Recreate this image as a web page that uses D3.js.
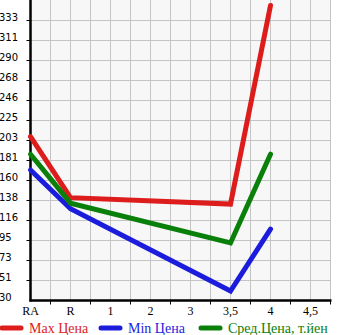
<!DOCTYPE html>
<html>
<head>
<meta charset="utf-8">
<script src="https://cdn.jsdelivr.net/npm/d3@7"></script>
<style>
  body { margin: 0; background: #fff; }
  svg { display: block; }
</style>
</head>
<body>
<div class="chart"></div>
<script>
// price chart, categories on x, three price series

var w = 345, h = 335;

var categories = ['RA', 'R', '1', '2', '3', '3,5', '4', '4,5'];
var maxPrice = [207, 141, null, null, null, 134, 349, null];
var minPrice = [171, 129, null, null, null, 40, 107, null];
var avgPrice = [188, 135, null, null, null, 92, 188, null];
var yTickLabels = [30, 51, 73, 95, 116, 138, 160, 181, 203, 225, 246, 268, 290, 311, 333];
var seriesNames = ['Max Цена', 'Min Цена', 'Сред.Цена, т.йен'];
var seriesColors = ['#dd1c1c', '#1c1cdd', '#0a800a'];

var left = 30.5, right = 330.5, top = 0.5, bottom = 300.5;

var x = d3.scalePoint()
	.domain(categories)
	.range([left, left + 40 * (categories.length - 1)]);

var y = d3.scaleLinear()
	.domain([29.7, 29.7 + 15 * (333 - 30) / 14])
	.range([bottom, bottom - 300]);

var svg = d3.select('.chart').append('svg')
	.attr('width', w)
	.attr('height', h);

// plot background
svg.append('rect')
	.attr('x', left).attr('y', 0)
	.attr('width', right - left).attr('height', bottom)
	.attr('fill', '#f7f7f7');

// grid, every 20px both ways
var gx = d3.range(left + 20, right + 1, 20);
svg.append('g').selectAll('line')
	.data(gx)
	.enter().append('line')
		.attr('x1', function(d) { return d; })
		.attr('x2', function(d) { return d; })
		.attr('y1', 0).attr('y2', bottom)
		.attr('stroke', '#c4c4c4').attr('stroke-width', 1);

svg.append('g').selectAll('line')
	.data(yTickLabels.slice(1))
	.enter().append('line')
		.attr('x1', left).attr('x2', right)
		.attr('y1', function(d, i) { return bottom - 20 * (i + 1); })
		.attr('y2', function(d, i) { return bottom - 20 * (i + 1); })
		.attr('stroke', '#c4c4c4').attr('stroke-width', 1);

// y axis
svg.append('g').selectAll('line')
	.data(yTickLabels.slice(1))
	.enter().append('line')
		.attr('x1', left - 4).attr('x2', left)
		.attr('y1', function(d, i) { return bottom - 20 * (i + 1); })
		.attr('y2', function(d, i) { return bottom - 20 * (i + 1); })
		.attr('stroke', '#000');

svg.append('g').selectAll('text')
	.data(yTickLabels)
	.enter().append('text')
		.attr('x', -1)
		.attr('y', function(d, i) { return bottom - 20 * i; })
		.attr('font-family', 'DejaVu Sans')
		.attr('font-size', '10px')
		.text(function(d) { return d; });

// x axis ticks between categories
svg.append('g').selectAll('line')
	.data(d3.range(left + 20, right + 1, 40))
	.enter().append('line')
		.attr('x1', function(d) { return d; })
		.attr('x2', function(d) { return d; })
		.attr('y1', bottom).attr('y2', bottom + 4)
		.attr('stroke', '#000');

svg.append('g').selectAll('text')
	.data(categories)
	.enter().append('text')
		.attr('x', function(d) { return x(d); })
		.attr('y', 315)
		.attr('text-anchor', 'middle')
		.attr('font-family', 'Liberation Serif')
		.attr('font-size', '12px')
		.text(function(d) { return d; });

svg.append('line')
	.attr('x1', left).attr('x2', left)
	.attr('y1', 0).attr('y2', bottom + 1)
	.attr('stroke', '#000').attr('stroke-width', 2.5);
svg.append('line')
	.attr('x1', left - 1).attr('x2', right + 1)
	.attr('y1', bottom).attr('y2', bottom)
	.attr('stroke', '#000').attr('stroke-width', 2.5);

// series lines, missing points skipped
var line = d3.line()
	.x(function(d) { return x(d.c); })
	.y(function(d) { return y(d.v); });

[maxPrice, minPrice, avgPrice].forEach(function(vals, k) {
	var pts = categories.map(function(c, i) { return { c: c, v: vals[i] }; })
		.filter(function(d) { return d.v != null; });
	svg.append('path')
		.attr('d', line(pts))
		.attr('fill', 'none')
		.attr('stroke', seriesColors[k])
		.attr('stroke-width', 5)
		.attr('stroke-linejoin', 'miter')
		.attr('stroke-linecap', 'round');
});

// legend
var legX = [2, 101, 201];
var leg = svg.append('g').selectAll('g')
	.data(seriesNames)
	.enter().append('g')
		.attr('transform', function(d, i) { return 'translate(' + legX[i] + ',328)'; });

leg.append('line')
	.attr('x1', 0).attr('x2', 19)
	.attr('y1', 0).attr('y2', 0)
	.attr('stroke', function(d, i) { return seriesColors[i]; })
	.attr('stroke-width', 5)
	.attr('stroke-linecap', 'round');

leg.append('text')
	.attr('x', 27)
	.attr('y', 4.5)
	.attr('font-family', 'Liberation Serif')
	.attr('font-size', '14px')
	.attr('fill', function(d, i) { return seriesColors[i]; })
	.text(function(d) { return d; });
</script>
</body>
</html>
